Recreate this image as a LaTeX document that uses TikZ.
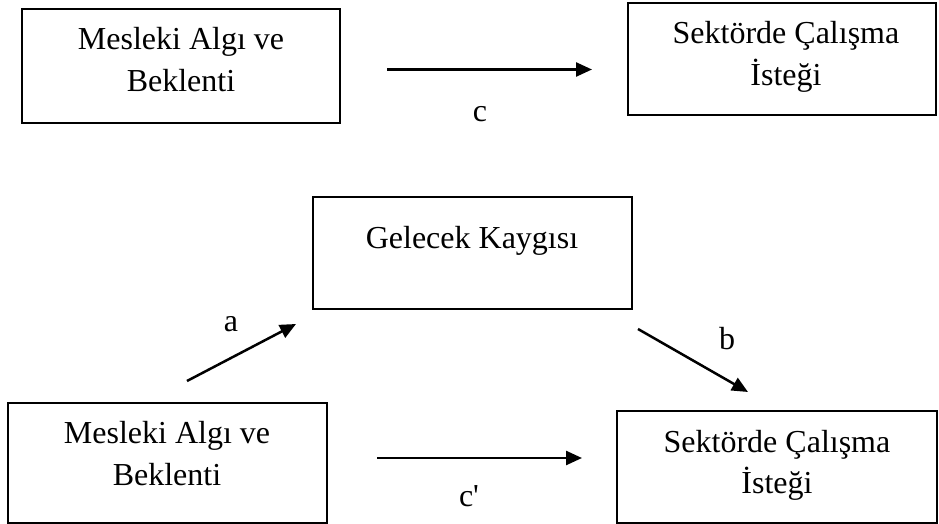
\documentclass[tikz,border=0pt]{standalone}
\usepackage{fontspec}
\setmainfont{Liberation Serif}
\newfontfamily\plainserif{Liberation Serif}[Ligatures=TeXOff]
\usetikzlibrary{arrows.meta}
\tikzset{
  box/.style={draw, line width=1.3pt, rectangle, inner sep=0pt},
  txt/.style={anchor=base, inner sep=0pt, font=\fontsize{16}{20.8}\selectfont},
  lbl/.style={anchor=base, inner sep=0pt, font=\fontsize{16}{20.8}\selectfont},
  arr/.style={line width=1.25pt, -{Triangle[length=8pt,width=7pt]}}
}
\newcommand{\twolines}[2]{\begin{tabular}[t]{@{}c@{}}#1\\#2\end{tabular}}
\begin{document}
\begin{tikzpicture}[x=0.5pt,y=-0.5pt]
\useasboundingbox (0,0) rectangle (939,524);
% boxes
\node[box, minimum width=159pt, minimum height=57pt] (tl) at (181,66) {};
\node[box, minimum width=154pt, minimum height=56pt] (tr) at (782,59) {};
\node[box, minimum width=159.5pt, minimum height=56pt] (mid) at (472.5,253) {};
\node[box, minimum width=159.5pt, minimum height=60pt] (bl) at (167.5,463) {};
\node[box, minimum width=160pt, minimum height=56pt] (br) at (777,467) {};
% texts
\node[txt] (tlt) at (181,50) {\twolines{Mesleki Algı ve}{Beklenti}};
\node[txt] (trt) at (786,43.5) {\twolines{Sektörde Çalışma}{İsteği}};
\node[txt] (midt) at (472,249) {Gelecek Kaygısı};
\node[txt] (blt) at (167,444) {\twolines{Mesleki Algı ve}{Beklenti}};
\node[txt] (brt) at (777,452) {\twolines{Sektörde Çalışma}{İsteği}};
% arrow endpoints
\coordinate (cs) at (387,69.5);
\coordinate (ce) at (592,69.5);
\coordinate (as) at (187,381);
\coordinate (ae) at (296,324);
\coordinate (bs) at (638,329);
\coordinate (be) at (748,392);
\coordinate (cps) at (377,458);
\coordinate (cpe) at (582,458);
\draw[arr] (cs) -- (ce);
\draw[arr] (as) -- (ae);
\draw[arr] (bs) -- (be);
\draw[arr] (cps) -- (cpe);
% labels
\node[lbl] (lc) at (480,122) {c};
\node[lbl] (la) at (231,332) {a};
\node[lbl] (lb) at (727,350) {b};
\node[lbl] (lcp) at (469,507) {\plainserif c'};
\end{tikzpicture}
\end{document}
